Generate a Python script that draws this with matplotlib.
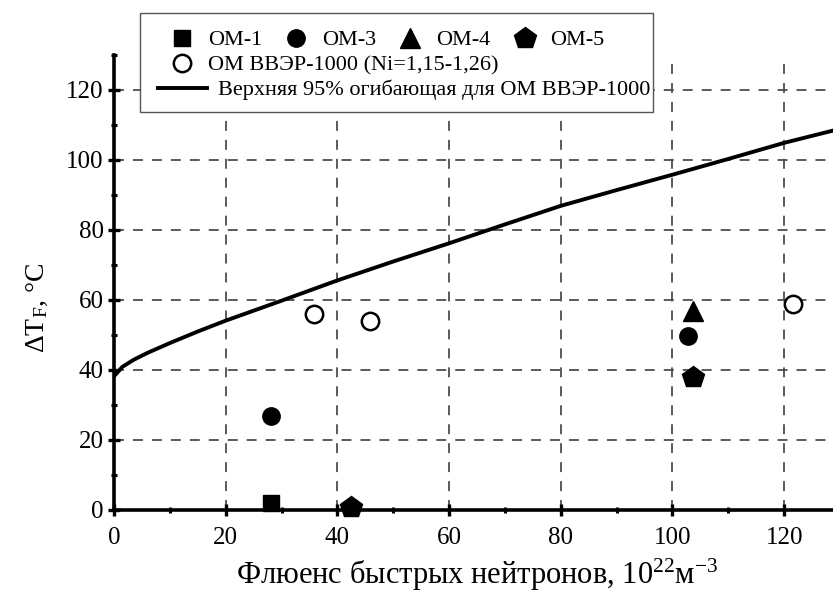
import numpy as np
import matplotlib
matplotlib.use("Agg")
import matplotlib.pyplot as plt
from matplotlib.lines import Line2D
from matplotlib.patches import Rectangle
from matplotlib.ticker import MultipleLocator

plt.rcParams['font.family'] = ['Liberation Serif', 'DejaVu Serif']
plt.rcParams['mathtext.fontset'] = 'custom'
plt.rcParams['mathtext.rm'] = 'Liberation Serif'
plt.rcParams['mathtext.it'] = 'Liberation Serif:italic'

# specimen groups: fluence (1e22 m^-3) and transition temperature shift (deg C)
om1_x, om1_y = [28.2], [2.1]
om3_x, om3_y = [28.2, 102.7], [26.9, 49.7]
om4_x, om4_y = [103.6], [56.8]
om5_x, om5_y = [42.4, 103.6], [0.9, 37.9]
vver_x = [35.9, 45.8, 121.5]
vver_y = [55.9, 54.0, 58.9]

# upper 95% envelope for VVER-1000 base metal
env_x = [0, 1.5, 3.5, 6, 10, 15, 20, 30, 40, 50, 60, 70, 80, 90, 100, 110, 120, 130]
env_y = [38.2, 40.9, 42.9, 44.9, 47.7, 51.0, 54.1, 59.8, 65.6, 71.0, 76.2, 81.6, 86.9,
         91.4, 95.8, 100.3, 104.9, 108.9]

fig = plt.figure(figsize=(8.33, 5.98), dpi=100)
ax = fig.add_axes([114 / 833, 88 / 598, 726 / 833, 455 / 598])

ax.plot(env_x, env_y, color='black', lw=2.8, zorder=3, solid_joinstyle='round')
mk = dict(color='black', linestyle='none', zorder=4, clip_on=False)
ax.plot(om1_x, om1_y, marker='s', ms=11.5, **mk)
ax.plot(om3_x, om3_y, marker='o', ms=12.5, **mk)
ax.plot(om4_x, om4_y, marker='^', ms=15, **mk)
ax.plot(om5_x, om5_y, marker='p', ms=16, **mk)
ax.plot(vver_x, vver_y, marker='o', ms=12.5, mfc='white', mec='black', mew=1.8,
        linestyle='none', zorder=4)

ax.set_xlim(0, 130)
ax.set_ylim(0, 130)
ax.xaxis.set_major_locator(MultipleLocator(20))
ax.xaxis.set_minor_locator(MultipleLocator(10))
ax.yaxis.set_major_locator(MultipleLocator(20))
ax.yaxis.set_minor_locator(MultipleLocator(10))
ax.set_xticks(np.arange(0, 121, 20))
ax.set_yticks(np.arange(0, 121, 20))

for side in ['top', 'right']:
    ax.spines[side].set_visible(False)
for side in ['left', 'bottom']:
    ax.spines[side].set_linewidth(2.6)

ax.tick_params(which='major', direction='inout', length=9, width=2.4, labelsize=18)
ax.tick_params(axis='x', which='major', pad=8)
ax.tick_params(axis='y', which='major', pad=3)
ax.tick_params(which='minor', direction='inout', length=5, width=2.2)
ax.grid(True, which='major', color='#4d4d4d', lw=1.3, linestyle=(0, (5.5, 5)))
ax.set_axisbelow(True)

ax.set_xlabel('Флюенс быстрых нейтронов, 10$^{22}$м$^{-3}$', fontsize=22, labelpad=5)
ax.set_ylabel(r'$\mathrm{\Delta T_F}$, °C', fontsize=20)
ax.yaxis.set_label_coords(-0.088, 0.444)

# legend frame and three rows of entries
fig.patches.append(Rectangle((140 / 833, 1 - 112 / 598), 513 / 833, 99 / 598,
                             transform=fig.transFigure, facecolor='white',
                             edgecolor='#555555', lw=1.0, zorder=4))

def mh(marker, ms, fill='black'):
    return Line2D([], [], color='black', marker=marker, ms=ms, mfc=fill,
                  mec='black', mew=1.8 if fill == 'white' else 1, linestyle='none')

row1 = [mh('s', 11.5), mh('o', 12.5), mh('^', 15), mh('p', 16)]
fig.legend(row1, ['ОМ-1', 'ОМ-3', 'ОМ-4', 'ОМ-5'], loc='center left',
           bbox_to_anchor=(173 / 833, 1 - 40 / 598), ncol=4, frameon=False,
           fontsize=16, handlelength=0.8, handletextpad=0.77, columnspacing=1.13,
           borderpad=0, borderaxespad=0)
fig.legend([mh('o', 12.5, 'white')], ['ОМ ВВЭР-1000 (Ni=1,15-1,26)'], loc='center left',
           bbox_to_anchor=(173 / 833, 1 - 65 / 598), frameon=False,
           fontsize=16, handlelength=0.8, handletextpad=0.77,
           borderpad=0, borderaxespad=0)
fig.legend([Line2D([], [], color='black', lw=2.8)],
           ['Верхняя 95% огибающая для ОМ ВВЭР-1000'], loc='center left',
           bbox_to_anchor=(158 / 833, 1 - 90 / 598), frameon=False,
           fontsize=16, handlelength=2.2, handletextpad=0.5,
           borderpad=0, borderaxespad=0)

fig.savefig('out.png', dpi=100)
